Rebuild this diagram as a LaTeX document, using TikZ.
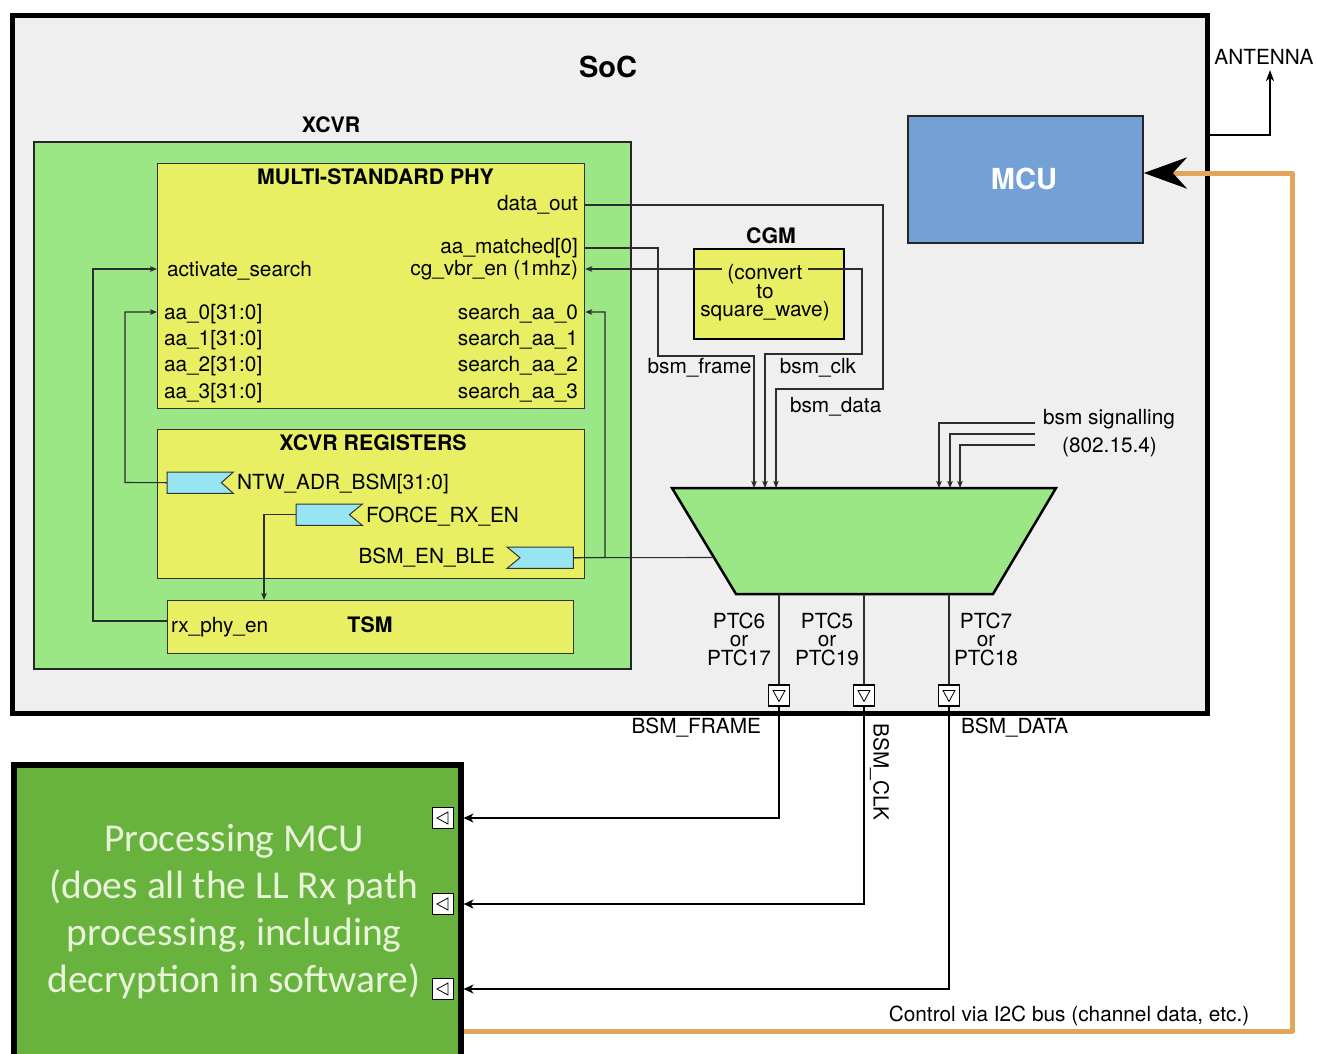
\documentclass[tikz,border=0pt]{standalone}
\usepackage{fontspec}
\setmainfont{TeX Gyre Heros}
\newfontfamily\calib{Carlito}
\usetikzlibrary{arrows.meta,calc}
\definecolor{socbg}{RGB}{239,239,239}
\definecolor{xgreen}{RGB}{155,230,133}
\definecolor{pyellow}{RGB}{232,239,99}
\definecolor{tagcyan}{RGB}{152,229,242}
\definecolor{mcublue}{RGB}{115,160,213}
\definecolor{procgreen}{RGB}{104,178,62}
\definecolor{proctext}{RGB}{232,243,218}
\definecolor{wirec}{RGB}{45,45,45}
\definecolor{orangec}{RGB}{226,165,92}
\begin{document}
\begin{tikzpicture}[x=1pt,y=-1pt,
  font=\fontsize{20.8}{25}\selectfont,
  box/.style={draw, anchor=north west, inner sep=0pt},
  lbl/.style={inner sep=0pt, outer sep=0pt, text height=15pt, text depth=0pt},
  ttl/.style={lbl, font=\fontsize{21.3}{25}\selectfont\bfseries},
  big/.style={inner sep=0pt, font=\fontsize{29}{34}\selectfont\bfseries},
  wire/.style={draw=wirec, line width=1.1pt},
  wiretwo/.style={draw=black, line width=1.8pt},
  tip/.style={-{Stealth[length=7pt,width=5.5pt,inset=1.5pt]}},
  tiptwo/.style={-{Stealth[length=10pt,width=9pt,inset=3pt]}},
  tagnode/.style={anchor=north west, inner sep=0pt, minimum width=66pt, minimum height=21pt},
  tagfill/.style={fill=tagcyan, draw=black!80, line width=1pt},
  pad/.style={draw, fill=white, line width=1.8pt, inner sep=0pt, minimum width=21pt, minimum height=21pt},
  multi/.style={align=center, inner sep=0pt, font=\fontsize{20.8}{18.5}\selectfont},
]
\fill[white] (0,0) rectangle (1317,1053);
\clip (0,0) rectangle (1317,1053);

% ---------- SoC ----------
\node[box, fill=socbg, line width=5.5pt, minimum width=1195pt, minimum height=698pt] (soc) at (9.5,12.5) {};
\node[big] (soct) at (608,67) {SoC};

% ---------- XCVR ----------
\node[ttl] (xcvrt) at (331,125) {XCVR};
\node[box, fill=xgreen, draw=black!85, line width=1.8pt, minimum width=597pt, minimum height=527pt] (xcvr) at (33,141) {};

% PHY
\node[box, fill=pyellow, draw=black!80, line width=1.2pt, minimum width=427pt, minimum height=245pt] (phy) at (157,163) {};
\node[ttl] (phyt) at (375.5,177) {MULTI-STANDARD PHY};
\node[lbl, anchor=east] (dout) at (578,203) {data\_out};
\node[lbl, anchor=east] (aam) at (578,246) {aa\_matched[0]};
\node[lbl, anchor=east] (cgv) at (578,268) {cg\_vbr\_en (1mhz)};
\node[lbl, anchor=west] (act) at (167,269) {activate\_search};
\node[lbl, anchor=west] (aa0) at (164,312) {aa\_0[31:0]};
\node[lbl, anchor=west] (aa1) at (164,338) {aa\_1[31:0]};
\node[lbl, anchor=west] (aa2) at (164,364) {aa\_2[31:0]};
\node[lbl, anchor=west] (aa3) at (164,391) {aa\_3[31:0]};
\node[lbl, anchor=east] (saa0) at (578,312) {search\_aa\_0};
\node[lbl, anchor=east] (saa1) at (578,338) {search\_aa\_1};
\node[lbl, anchor=east] (saa2) at (578,364) {search\_aa\_2};
\node[lbl, anchor=east] (saa3) at (578,391) {search\_aa\_3};

% Registers
\node[box, fill=pyellow, draw=black!80, line width=1.2pt, minimum width=427pt, minimum height=149pt] (regs) at (157,429) {};
\node[ttl] (regst) at (373,443) {XCVR REGISTERS};
\node[tagnode] (ntw) at (167,472) {};
\node[tagnode] (force) at (296,504) {};
\node[tagnode] (ble) at (507,547) {};
\path[tagfill] (ntw.north west) -- (ntw.north east) -- ([xshift=-12pt]ntw.east) -- (ntw.south east) -- (ntw.south west) -- cycle;
\path[tagfill] (force.north west) -- (force.north east) -- ([xshift=-13pt]force.east) -- (force.south east) -- (force.south west) -- cycle;
\path[tagfill] (ble.north west) -- (ble.north east) -- (ble.south east) -- (ble.south west) -- ([xshift=13pt]ble.west) -- cycle;
\node[lbl, anchor=west] (ntwt) at (237,482) {NTW\_ADR\_BSM[31:0]};
\node[lbl, anchor=west] (forcet) at (366,515) {FORCE\_RX\_EN};
\node[lbl, anchor=east] (blet) at (495,556) {BSM\_EN\_BLE};

% TSM
\node[box, fill=pyellow, draw=black!80, line width=1.2pt, minimum width=406pt, minimum height=53pt] (tsm) at (167,600) {};
\node[lbl, anchor=west] (rxphy) at (171,625) {rx\_phy\_en};
\node[ttl] (tsmt) at (370,625) {TSM};

% ---------- CGM ----------
\node[ttl] (cgmt) at (771,236) {CGM};
\node[box, fill=pyellow, draw=black, line width=2pt, minimum width=150pt, minimum height=90pt] (cgm) at (693,248) {};
\node[align=center, inner sep=0pt, font=\fontsize{20.8}{17.8}\selectfont] (cgmx) at (765,292.5) {(convert\\to\\square\_wave)};

% ---------- MUX ----------
\coordinate (mTL) at (672,488);
\coordinate (mTR) at (1056,488);
\coordinate (mBR) at (993,594);
\coordinate (mBL) at (736,594);
\coordinate (muxin) at (714,557.5);
\draw[fill=xgreen, line width=2.5pt, line join=miter] (mTL) -- (mTR) -- (mBR) -- (mBL) -- cycle;

\node[lbl] (bfr) at (699.5,366) {bsm\_frame};
\node[lbl] (bclk) at (818,366) {bsm\_clk};
\node[lbl, anchor=west] (bdat) at (790,405) {bsm\_data};
\node[lbl] (bsig1) at (1109,417) {bsm signalling};
\node[lbl] (bsig2) at (1109.5,445) {(802.15.4)};
\coordinate (sig1) at (1035,423);
\coordinate (sig2) at (1035,434);
\coordinate (sig3) at (1035,445);

\node[multi] (ptc6) at (739,639) {PTC6\\or\\PTC17};
\node[multi] (ptc5) at (827,639) {PTC5\\or\\PTC19};
\node[multi] (ptc7) at (986,639) {PTC7\\or\\PTC18};

% SoC pads
\node[pad] (p1) at (779,695.5) {};
\node[pad] (p2) at (864,695.5) {};
\node[pad] (p3) at (949,695.5) {};
\foreach \p in {p1,p2,p3}{
  \draw[line width=0.8pt] ($(\p)+(-6,-5)$) -- ($(\p)+(6,-5)$) -- ($(\p)+(0,6)$) -- cycle;
}

% ---------- MCU ----------
\node[box, fill=mcublue, draw=black!85, line width=1.8pt, minimum width=235pt, minimum height=127pt] (mcu) at (907,115) {};
\node[big, text=white] (mcut) at (1024,179) {MCU};

% ---------- Processing MCU ----------
\node[box, fill=procgreen, line width=5.5pt, minimum width=447pt, minimum height=320pt] (proc) at (11,762) {};
\node[align=center, inner sep=0pt, text=proctext, font=\calib\fontsize{39.5}{47}\selectfont] (proct) at (234,912) {Processing MCU\\(does all the LL Rx path\\processing, including\\decryption in software)};
\node[pad] (pp1) at (443,818) {};
\node[pad] (pp2) at (443,904) {};
\node[pad] (pp3) at (443,989) {};
\foreach \p in {pp1,pp2,pp3}{
  \draw[line width=0.8pt] ($(\p)+(5,-6)$) -- ($(\p)+(5,6)$) -- ($(\p)+(-6,0)$) -- cycle;
}

% ---------- wires inside XCVR ----------
\draw[wire, tip] (tsm.west |- 0,621) -- (93,621) |- (phy.west |- act.west);
\draw[wire, tip] (ntw.west) -- (125,482.5) |- (phy.west |- aa0.west);
\draw[wire, tip] (force.west) -| (tsm.north -| 264,0);
\draw[wire, tip] (ble.east) -- (605,557.5) |- (phy.east |- saa0.east);
\draw[wire] (ble.east) -- (muxin);

% ---------- wires to MUX ----------
\draw[wire, tip] (phy.east |- 0,205) -- (883,205) -- (883,389) -- (776,389) -- (mTL -| 776,0);
\draw[wire, tip] (phy.east |- 0,248) -- (658,248) -- (658,356) -- (754,356) -- (mTL -| 754,0);
\draw[wire, tip] (722,269) -- (phy.east |- 0,269);
\draw[wire, tip] (808,269) -- (862,269) -- (862,354) -- (765,354) -- (mTL -| 765,0);
\draw[wire, tip] (sig1) -| (mTL -| 939,0);
\draw[wire, tip] (sig2) -| (mTL -| 950,0);
\draw[wire, tip] (sig3) -| (mTL -| 960,0);
\draw[wire] (mBL -| p1) -- (p1.north);
\draw[wire] (mBL -| p2) -- (p2.north);
\draw[wire] (mBL -| p3) -- (p3.north);

% ---------- wires to Processing MCU ----------
\draw[wiretwo, tiptwo] (p1.south) |- (proc.east |- pp1);
\draw[wiretwo, tiptwo] (p2.south) |- (proc.east |- pp2);
\draw[wiretwo, tiptwo] (p3.south) |- (proc.east |- pp3);
\node[lbl, anchor=east] (bsmf) at (761,726) {BSM\_FRAME};
\node[lbl, rotate=-90] (bsmc) at (881,772) {BSM\_CLK};
\node[lbl, anchor=west] (bsmd) at (961,726) {BSM\_DATA};

% ---------- antenna ----------
\node[lbl] (ant) at (1264,57) {ANTENNA};
\coordinate (anttip) at (1270,70);
\draw[wiretwo, -{Stealth[length=11pt,width=8pt,inset=3pt]}] (soc.east |- 0,135) -- (1270,135) -- (anttip);

% ---------- I2C control ----------
\draw[draw=orangec, line width=5pt, line join=round, -{Stealth[length=43pt,width=31pt,inset=14pt,black]}] (proc.east |- 0,1031) -- (1292,1031) -- (1292,173) -- (mcu.east |- 0,173);
\node[lbl] (ctrl) at (1069,1014) {Control via I2C bus (channel data, etc.)};
\end{tikzpicture}
\end{document}
